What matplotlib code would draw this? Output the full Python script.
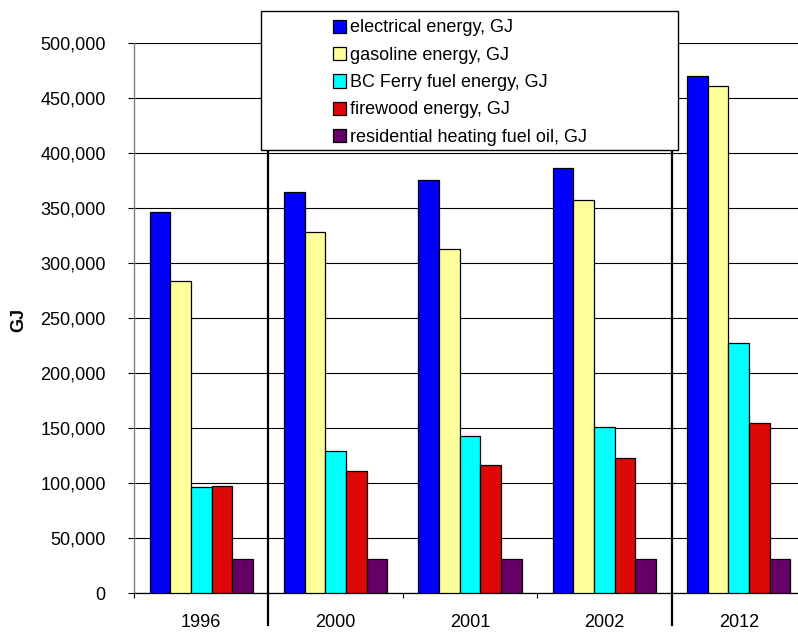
import matplotlib
matplotlib.use("Agg")
import matplotlib.pyplot as plt
from matplotlib.patches import Rectangle
from matplotlib.lines import Line2D
from matplotlib.ticker import FuncFormatter, FixedLocator
import numpy as np

plt.rcParams['font.family'] = ['Liberation Sans', 'DejaVu Sans']

years = ["1996", "2000", "2001", "2002", "2012"]
series_names = [
    "electrical energy, GJ",
    "gasoline energy, GJ",
    "BC Ferry fuel energy, GJ",
    "firewood energy, GJ",
    "residential heating fuel oil, GJ",
]
electrical = [346000, 365000, 375500, 386000, 470000]
gasoline = [284000, 328000, 313000, 357000, 461000]
bc_ferry = [96000, 129000, 143000, 151000, 227500]
firewood = [97500, 111000, 116500, 122500, 154500]
heating_oil = [31000, 31000, 31000, 31000, 31000]
colors = ["#0000FF", "#FFFF99", "#00FFFF", "#DD0808", "#660066"]

W, H, DPI = 798, 633, 100
fig = plt.figure(figsize=(W / DPI, H / DPI), dpi=DPI)

# plot area in pixels: left 134, bottom (zero line) 593, top 43, right 806
ax = fig.add_axes([134 / W, (H - 593) / H, (806 - 134) / W, 550 / H])

data = [electrical, gasoline, bc_ferry, firewood, heating_oil]
x = np.arange(len(years))
bw = 1 / 6.5
for i, (vals, c) in enumerate(zip(data, colors)):
    ax.bar(x + (i - 2) * bw, vals, width=bw, color=c, edgecolor="black",
           linewidth=0.9, zorder=3)

ax.set_xlim(-0.5, len(years) - 0.5)
ax.set_ylim(0, 500000)
ax.set_yticks(np.arange(0, 500001, 50000))
ax.yaxis.set_major_formatter(FuncFormatter(lambda v, p: f"{int(v):,}"))
ax.grid(axis="y", color="black", linewidth=0.8, zorder=0)
ax.set_axisbelow(True)

for s in ["top", "right"]:
    ax.spines[s].set_visible(False)
ax.spines["left"].set_color("#808080")
ax.spines["left"].set_linewidth(1.0)
ax.spines["bottom"].set_color("black")
ax.spines["bottom"].set_linewidth(0.9)

ax.tick_params(axis="y", direction="out", length=4.3, width=0.8, color="black",
               labelsize=13, pad=16)
ax.set_xticks(x)
ax.set_xticklabels(years)
ax.tick_params(axis="x", which="major", length=0, labelsize=13, pad=15)
ax.xaxis.set_minor_locator(FixedLocator([-0.5, 1.5, 2.5]))
ax.tick_params(axis="x", which="minor", direction="out", length=3.6,
               width=0.8, color="black")

# group separators at the boundaries after 1996 and before 2012
for xb in [0.5, 3.5]:
    ax.add_line(Line2D([xb, xb], [-29100, 402700], color="black",
                       linewidth=1.6, clip_on=False, zorder=5))

fig.text(19 / W, 1 - 320 / H, "GJ", rotation=90, ha="center", va="center",
         fontsize=13, fontweight="bold")

# legend box
lx0, ly0, lx1, ly1 = 261, 11, 678, 150
fig.patches.append(Rectangle((lx0 / W, 1 - ly1 / H), (lx1 - lx0) / W,
                             (ly1 - ly0) / H, transform=fig.transFigure,
                             facecolor="white", edgecolor="black",
                             linewidth=1.0, zorder=10))
row_y = [26, 53, 80.5, 108, 135]
for name, c, yy in zip(series_names, colors, row_y):
    fig.patches.append(Rectangle((333 / W, 1 - (yy + 7) / H), 13 / W, 13 / H,
                                 transform=fig.transFigure, facecolor=c,
                                 edgecolor="black", linewidth=0.9, zorder=11))
    fig.text(350 / W, 1 - yy / H, name, ha="left", va="center_baseline",
             fontsize=13, zorder=12)

fig.savefig("out.png", dpi=DPI)
